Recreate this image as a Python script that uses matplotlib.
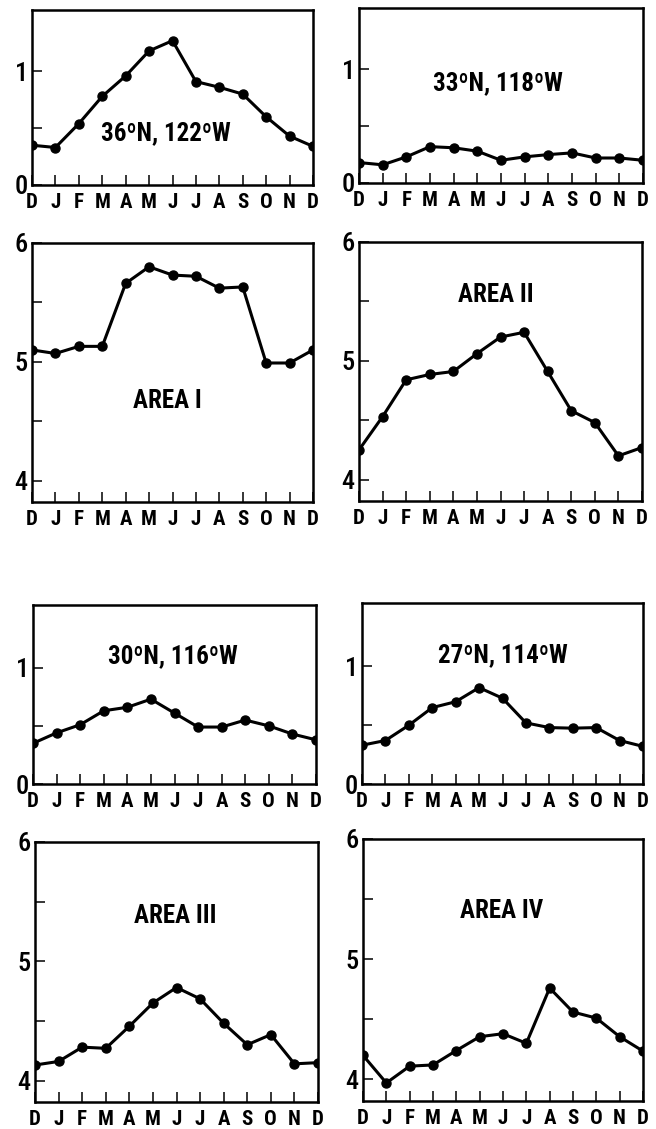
import matplotlib
matplotlib.use('Agg')
import matplotlib.pyplot as plt
from matplotlib import font_manager

# Month labels (December repeated at both ends)
months = ['D', 'J', 'F', 'M', 'A', 'M', 'J', 'J', 'A', 'S', 'O', 'N', 'D']

# Station series (upper rows, scale 0 - 1.5)
st_36n_122w = [0.35, 0.33, 0.54, 0.78, 0.96, 1.18, 1.27, 0.91, 0.86, 0.80, 0.60, 0.43, 0.34]
st_33n_118w = [0.18, 0.16, 0.23, 0.32, 0.31, 0.28, 0.20, 0.23, 0.25, 0.265, 0.22, 0.22, 0.20]
st_30n_116w = [0.35, 0.44, 0.51, 0.63, 0.66, 0.73, 0.61, 0.49, 0.49, 0.55, 0.50, 0.43, 0.38]
st_27n_114w = [0.33, 0.37, 0.50, 0.65, 0.70, 0.82, 0.73, 0.52, 0.48, 0.475, 0.48, 0.37, 0.32]

# Area series (lower rows, scale 4 - 6)
area_1 = [5.10, 5.07, 5.13, 5.13, 5.66, 5.80, 5.73, 5.72, 5.62, 5.63, 4.99, 4.99, 5.10]
area_2 = [4.25, 4.53, 4.84, 4.885, 4.91, 5.06, 5.20, 5.24, 4.91, 4.58, 4.48, 4.20, 4.27]
area_3 = [4.13, 4.16, 4.28, 4.27, 4.455, 4.65, 4.78, 4.685, 4.48, 4.30, 4.385, 4.14, 4.15]
area_4 = [4.20, 3.97, 4.11, 4.12, 4.24, 4.355, 4.38, 4.30, 4.76, 4.56, 4.51, 4.355, 4.235]

labels = ['36ºN, 122ºW', '33ºN, 118ºW', 'AREA I', 'AREA II',
          '30ºN, 116ºW', '27ºN, 114ºW', 'AREA III', 'AREA IV']
series = [st_36n_122w, st_33n_118w, area_1, area_2,
          st_30n_116w, st_27n_114w, area_3, area_4]

# Pick a condensed font if one is installed
names = {f.name for f in font_manager.fontManager.ttflist}
cond = 'DejaVu Sans'
for cand in ['Roboto Condensed', 'Liberation Sans Narrow', 'Noto Sans Condensed',
             'DejaVu Sans Condensed', 'Open Sans Condensed']:
    if cand in names:
        cond = cand
        break

W, H = 656, 1129
fig = plt.figure(figsize=(W / 100, H / 100), dpi=100)

# Axes boxes in pixels: x0, x1, ytop, ybottom
boxes = [(32, 313, 10, 185), (359, 643, 8, 183),
         (32, 313, 243, 502), (359, 642, 242, 501),
         (33, 316, 605, 784), (362, 643, 603, 784),
         (35, 318, 842, 1102), (363, 643, 839, 1101)]
# Label positions (data coords)
label_pos = [(5.7, 0.46), (5.85, 0.88), (5.8, 4.67), (5.8, 5.55),
             (5.95, 1.10), (6.0, 1.10), (5.95, 5.38), (5.95, 5.40)]

x = list(range(len(months)))
for i, (vals, lab) in enumerate(zip(series, labels)):
    x0, x1, yt, yb = boxes[i]
    ax = fig.add_axes([x0 / W, 1 - yb / H, (x1 - x0) / W, (yb - yt) / H])
    ax.plot(x, vals, color='black', linewidth=2.2, marker='o', markersize=6.5)

    ax.set_xlim(0, 12)
    ax.set_xticks(x)
    ax.set_xticklabels(months, fontfamily=cond, fontweight='black', fontsize=15)

    if i in (2, 3, 6, 7):
        ax.set_ylim(3.82, 6.0)
        ax.set_yticks([4, 4.5, 5, 5.5, 6])
        ax.set_yticklabels(['4', '', '5', '', '6'])
    else:
        ax.set_ylim(0, 1.54)
        ax.set_yticks([0, 0.5, 1])
        ax.set_yticklabels(['0', '', '1'])
    for t in ax.get_yticklabels():
        t.set_fontfamily(cond)
        t.set_fontweight('medium')
        t.set_fontsize(19)

    ax.tick_params(axis='both', direction='in', length=7, width=1.1, color='black')
    ax.tick_params(axis='x', pad=6)
    ax.tick_params(axis='y', pad=3)
    for sp in ax.spines.values():
        sp.set_linewidth(1.8)

    ax.text(label_pos[i][0], label_pos[i][1], lab, ha='center', va='center',
            fontfamily=cond, fontweight='black', fontsize=18)

fig.savefig('out.png', dpi=100)
